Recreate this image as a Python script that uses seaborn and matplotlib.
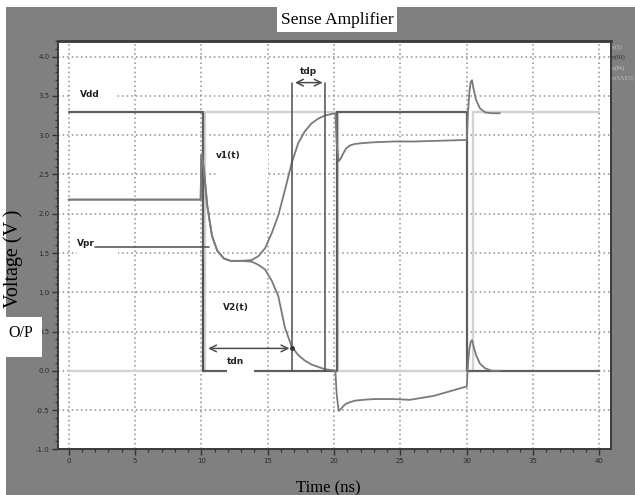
import numpy as np
import pandas as pd
import matplotlib
matplotlib.use("Agg")
import matplotlib.pyplot as plt
from matplotlib.patches import Rectangle
from matplotlib.ticker import MultipleLocator
import seaborn as sns

# ---------------- data ----------------
# clock-like signal (dark): high, low, high, low
t_clk_a = [0, 10.1, 10.1, 20.2, 20.2, 30.05, 30.05, 40]
v_clk_a = [3.3, 3.3, 0.0, 0.0, 3.3, 3.3, 0.0, 0.0]

# complementary signal (light)
t_clk_b = [0, 10.3, 10.3, 20.3, 20.3, 30.45, 30.45, 40]
v_clk_b = [0.0, 0.0, 3.3, 3.3, 0.0, 0.0, 3.3, 3.3]

# v1(t)
t_v1 = [0, 9.95, 10.0, 10.05, 10.2, 10.45, 10.8, 11.2, 11.7, 12.2, 13.0, 13.8, 14.3,
        14.8, 15.3, 15.8, 16.3, 16.8, 17.3, 17.8, 18.3, 18.8, 19.3, 19.8, 20.1,
        20.2, 20.35, 20.5, 20.7, 20.9, 21.2, 21.6, 22.2, 23.0, 24.5, 26.0, 28.0,
        30.0, 30.1, 30.2, 30.3, 30.4, 30.5, 30.7, 31.0, 31.4, 31.9, 32.5]
v_v1 = [2.18, 2.18, 2.74, 2.76, 2.55, 2.10, 1.72, 1.53, 1.43, 1.40, 1.40, 1.41, 1.46,
        1.56, 1.75, 1.98, 2.30, 2.64, 2.90, 3.05, 3.15, 3.21, 3.25, 3.27, 3.28,
        2.90, 2.67, 2.70, 2.77, 2.83, 2.87, 2.89, 2.90, 2.91, 2.92, 2.92, 2.93,
        2.94, 3.30, 3.55, 3.68, 3.70, 3.60, 3.45, 3.34, 3.29, 3.28, 3.28]

# V2(t)
t_v2 = [0, 9.95, 10.0, 10.05, 10.2, 10.45, 10.8, 11.2, 11.7, 12.2, 13.0, 13.8, 14.3,
        14.8, 15.3, 15.8, 16.3, 16.8, 17.3, 17.8, 18.3, 18.8, 19.3, 19.8, 20.1,
        20.2, 20.35, 20.5, 20.7, 20.9, 21.2, 21.6, 22.2, 23.0, 24.5, 25.7, 27.5,
        30.0, 30.1, 30.2, 30.3, 30.4, 30.5, 30.7, 31.0, 31.4, 31.9, 32.5]
v_v2 = [2.18, 2.18, 2.74, 2.76, 2.55, 2.10, 1.72, 1.53, 1.43, 1.40, 1.40, 1.39, 1.35,
        1.29, 1.15, 0.95, 0.55, 0.31, 0.20, 0.13, 0.08, 0.05, 0.02, 0.01, 0.00,
        -0.30, -0.51, -0.49, -0.45, -0.42, -0.40, -0.38, -0.37, -0.36, -0.36, -0.37, -0.32,
        -0.20, 0.10, 0.28, 0.37, 0.39, 0.32, 0.20, 0.09, 0.03, 0.00, 0.00]

x_ticks = [0, 5, 10, 15, 20, 25, 30, 35, 40]
y_ticks = [-1.0, -0.5, 0.0, 0.5, 1.0, 1.5, 2.0, 2.5, 3.0, 3.5, 4.0]
legend_labels = ["v(1)", "v(01)", "v(Pr)", "v(SAEN)"]

# ---------------- figure ----------------
sns.set_theme(style="white")
plt.rcParams["font.family"] = ["DejaVu Sans"]

W, H = 635, 495
fig = plt.figure(figsize=(W / 100, H / 100), dpi=100)
fig.patch.set_facecolor("white")
fig.add_artist(Rectangle((6 / W, 0), 1, 1 - 7 / H, transform=fig.transFigure,
                         facecolor="#808080", edgecolor="none", zorder=-10))

ax = fig.add_axes([58 / W, 1 - 449.3 / H, (611 - 58) / W, (449.3 - 41) / H])
ax.set_facecolor("white")

kw = dict(ax=ax, estimator=None, sort=False, legend=False)
sns.lineplot(x=t_clk_b, y=v_clk_b, color="#d2d2d2", linewidth=1.7, zorder=2, **kw)
sns.lineplot(x=t_clk_a, y=v_clk_a, color="#5e5e5e", linewidth=1.6, zorder=2.2, **kw)
sns.lineplot(x=t_v2, y=v_v2, color="#7a7a7a", linewidth=1.3, zorder=2.4, **kw)
sns.lineplot(x=t_v1, y=v_v1, color="#7a7a7a", linewidth=1.3, zorder=2.5, **kw)

ax.set_xlim(-0.8, 40.87)
ax.set_ylim(-1.0, 4.2)
ax.set_xticks(x_ticks)
ax.set_yticks(y_ticks)
ax.set_xticklabels([str(v) for v in x_ticks])
ax.set_yticklabels([f"{v:.1f}" for v in y_ticks])
ax.xaxis.set_minor_locator(MultipleLocator(1))
ax.yaxis.set_minor_locator(MultipleLocator(0.1))
ax.tick_params(axis="both", which="major", direction="out", length=4, width=1,
               color="#333333", labelsize=5, labelcolor="#2a2a2a", pad=2,
               bottom=True, left=True)
ax.tick_params(axis="both", which="minor", direction="out", length=2.5, width=0.9,
               color="#333333", bottom=True, left=True)
ax.set_xlabel("")
ax.set_ylabel("")
ax.grid(True, which="major", color="#8f8f8f", linestyle=(0, (1, 2)), linewidth=1.1)
ax.set_axisbelow(True)
for s in ax.spines.values():
    s.set_color("#3a3a3a")
    s.set_linewidth(1.4)
ax.spines["top"].set_linewidth(2)

# ---------------- annotations ----------------
ann = "#4d4d4d"
# label background boxes
for (x0, y0, w, h) in [(0.1, 3.42, 3.5, 0.24), (11.1, 2.43, 3.9, 0.41),
                       (0.6, 1.44, 3.1, 0.26), (11.9, -0.03, 2.1, 0.23)]:
    ax.add_patch(Rectangle((x0, y0), w, h, facecolor="white", edgecolor="none", zorder=3))

# Vpr level line
ax.plot([2.0, 10.6], [1.58, 1.58], color=ann, linewidth=1.1, zorder=3.5)
# tdn bracket
ax.plot([10.15, 10.15], [0.0, 1.42], color=ann, linewidth=1.1, zorder=3.5)
ax.annotate("", xy=(10.3, 0.285), xytext=(16.85, 0.285),
            arrowprops=dict(arrowstyle="<->", color=ann, lw=1.1), zorder=3.5)
ax.plot([16.85], [0.285], marker="o", markersize=2.5, color="#333333", zorder=3.6)
# tdp bracket
ax.plot([16.85, 16.85], [0.0, 3.67], color=ann, linewidth=1.1, zorder=3.5)
ax.plot([19.35, 19.35], [0.0, 3.67], color=ann, linewidth=1.1, zorder=3.5)
ax.annotate("", xy=(16.85, 3.67), xytext=(19.35, 3.67),
            arrowprops=dict(arrowstyle="<->", color=ann, lw=1.1), zorder=3.5)

lab = dict(fontsize=6.5, fontweight="bold", color="#222222", zorder=4,
           ha="left", va="center")
ax.text(0.85, 3.52, "Vdd", **lab)
ax.text(11.1, 2.74, "v1(t)", **lab)
ax.text(0.63, 1.62, "Vpr", **lab)
ax.text(11.65, 0.80, "V2(t)", **lab)
ax.text(11.95, 0.115, "tdn", **lab)
ax.text(17.4, 3.81, "tdp", **lab)

# ---------------- outer texts ----------------
serif = ["Liberation Serif", "DejaVu Serif"]
fig.add_artist(Rectangle((277 / W, 1 - 32 / H), 120 / W, 25 / H, transform=fig.transFigure,
                         facecolor="white", edgecolor="none", zorder=5))
fig.text(337 / W, 1 - 19.5 / H, "Sense Amplifier", ha="center", va="center",
         fontsize=12.5, family=serif, color="black", zorder=6)

fig.text(13 / W, 1 - 259 / H, "Voltage (V )", rotation=90, ha="center", va="center",
         fontsize=14.5, family=serif, color="black")
fig.add_artist(Rectangle((6 / W, 1 - 357 / H), 36 / W, 40 / H, transform=fig.transFigure,
                         facecolor="white", edgecolor="none", zorder=5))
fig.text(21 / W, 1 - 333 / H, "O/P", ha="center", va="center",
         fontsize=11.5, family=serif, color="black", zorder=6)

fig.text(328 / W, 1 - 488 / H, "Time (ns)", ha="center", va="center",
         fontsize=12, family=serif, color="black")

leg_colors = ["#c8c8c8", "#202020", "#d0d0d0", "#bcbcbc"]
for i, (txt, c) in enumerate(zip(legend_labels, leg_colors)):
    fig.text(612 / W, 1 - (47 + i * 10.5) / H, txt, ha="left", va="center",
             fontsize=4.2, family=serif, color=c)

fig.savefig("out.png", dpi=100, facecolor=fig.get_facecolor())
